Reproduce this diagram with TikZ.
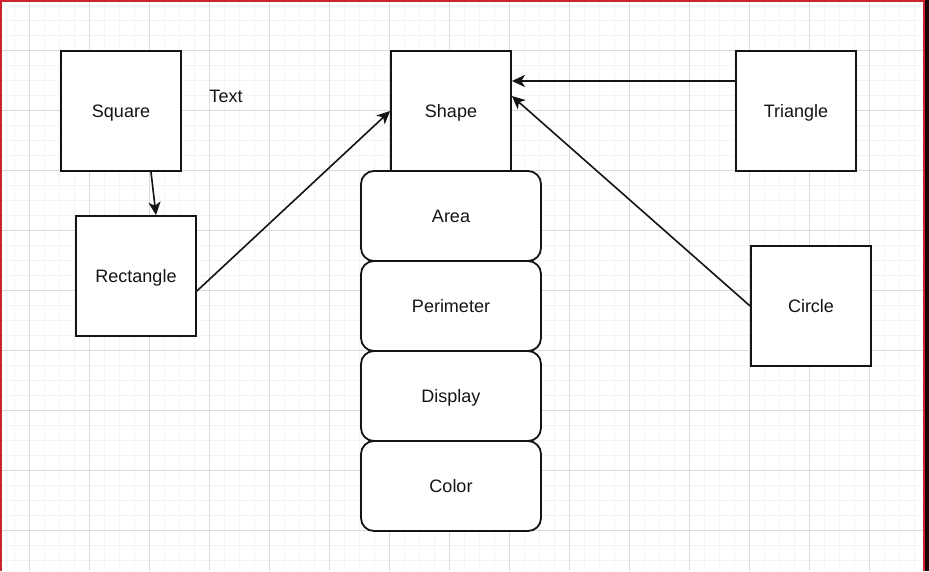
\documentclass[tikz,border=0pt]{standalone}
\usepackage{fontspec}
\setmainfont{Liberation Sans}
\usetikzlibrary{arrows.meta}
\definecolor{gridminor}{RGB}{244,244,244}
\definecolor{gridmajor}{RGB}{218,218,218}
\definecolor{frame}{RGB}{205,35,45}
\definecolor{darkedge}{RGB}{25,5,5}
\definecolor{ink}{RGB}{20,20,20}
\tikzset{
  box/.style={draw=ink, line width=1.8pt, fill=white, minimum width=120pt, minimum height=120pt, inner sep=0pt, text height=13pt, text depth=0pt, font=\fontsize{18}{22}\selectfont, text=ink},
  method/.style={draw=ink, line width=1.8pt, fill=white, rounded corners=13pt, minimum width=180pt, minimum height=90pt, inner sep=0pt, text height=13pt, text depth=0pt, font=\fontsize{18}{22}\selectfont, text=ink},
  conn/.style={draw=ink, line width=1.6pt, -{Stealth[length=13pt, width=12pt, inset=3.5pt]}},
  label/.style={font=\fontsize{18}{22}\selectfont, text=ink, inner sep=0pt, text height=13pt, text depth=0pt}
}
\begin{document}
\begin{tikzpicture}[x=1pt, y=-1pt]
\useasboundingbox (0,0) rectangle (929,571);
\fill[white] (0,0) rectangle (929,571);
% minor grid
\foreach \i in {-1,...,61} {
  \draw[gridminor, line width=1pt] ({14+15*\i},0) -- ({14+15*\i},571);
}
\foreach \j in {0,...,38} {
  \draw[gridminor, line width=1pt] (0,{5+15*\j}) -- (929,{5+15*\j});
}
% major grid
\foreach \i in {0,...,15} {
  \draw[gridmajor, line width=1pt] ({29+60*\i},0) -- ({29+60*\i},571);
}
\foreach \j in {-1,...,9} {
  \draw[gridmajor, line width=1pt] (0,{50+60*\j}) -- (929,{50+60*\j});
}
% window edges
\fill[frame] (0,0) rectangle (924,2);
\fill[frame] (0,0) rectangle (2,571);
\fill[frame] (923,0) rectangle (924.5,571);
\fill[darkedge] (924.5,0) rectangle (929,571);

% nodes
\node[box] (square) at (121,111) {Square};
\node[box] (rect) at (136,276) {Rectangle};
\node[box] (shape) at (451,111) {Shape};
\node[box] (triangle) at (796,111) {Triangle};
\node[box] (circle) at (811,306) {Circle};
\node[label] (txt) at (226,96) {Text};

\node[method] (area) at (451,216) {Area};
\node[method] (perim) at (451,306) {Perimeter};
\node[method] (display) at (451,396) {Display};
\node[method] (color) at (451,486) {Color};

% connectors
\draw[conn] ([xshift=30pt]square.south) -- ([xshift=20pt]rect.north);
\draw[conn] ([yshift=-15pt]rect.east) -- (shape.west);
\draw[conn] ([yshift=30pt]triangle.west) -- ([yshift=30pt]shape.east);
\draw[conn] (circle.west) -- ([yshift=15pt]shape.east);
\end{tikzpicture}
\end{document}
